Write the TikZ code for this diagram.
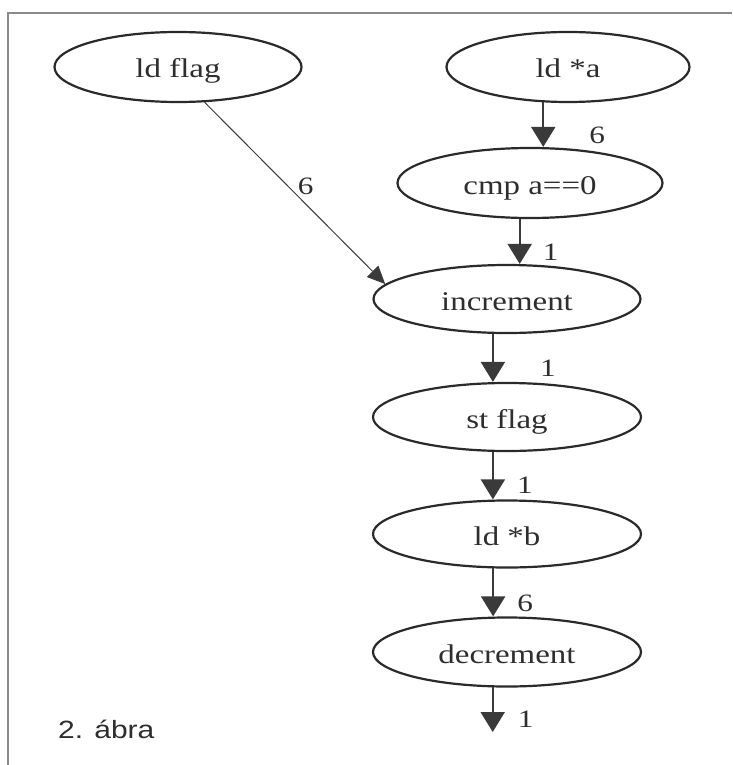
\documentclass[tikz,border=0pt]{standalone}
\usepackage{fontspec}
\setmainfont{Liberation Serif}
\newfontfamily\graphfont[FakeStretch=1.22]{Liberation Serif}
\newfontfamily\lblfont[FakeStretch=1.25]{Liberation Serif}
\newfontfamily\capfont[FakeStretch=1.2]{Liberation Sans}
\usetikzlibrary{arrows.meta,shapes.geometric}
\definecolor{ink}{HTML}{2A2A2A}
\definecolor{stem}{HTML}{3A3A3A}
\definecolor{framec}{HTML}{8A8A8A}
\definecolor{txt}{HTML}{2E2E2E}
\begin{document}
\begin{tikzpicture}[x=1pt,y=-1pt,
  op/.style={ellipse,draw=ink,line width=2.2pt,inner sep=0pt,text=txt,
    text height=24pt,text depth=2pt,
    font=\graphfont\fontsize{27}{30}\selectfont},
  lbl/.style={text=txt,inner sep=0pt,font=\lblfont\fontsize{25}{28}\selectfont},
  arr/.style={draw=stem,line width=2pt,-{Triangle[length=20pt,width=24pt]}},
  thinarr/.style={draw=stem,line width=1pt,-{Triangle[length=18pt,width=16pt]}}]
\useasboundingbox (0,0) rectangle (732,765);
\fill[white] (0,0) rectangle (732,765);
% frame
\draw[framec,line width=2pt] (8,765) -- (8,13) -- (732,13);
% nodes
\node[op,minimum width=247pt,minimum height=70pt] (ldflag) at (178,67) {ld flag};
\node[op,minimum width=243pt,minimum height=70pt] (lda) at (568,67) {ld *a};
\node[op,minimum width=265pt,minimum height=70pt] (cmp) at (530,183) {cmp a==0};
\node[op,minimum width=267pt,minimum height=68pt] (incr) at (507,299) {increment};
\node[op,minimum width=268pt,minimum height=68pt] (stflag) at (507,417) {st flag};
\node[op,minimum width=268pt,minimum height=67pt] (ldb) at (507,534) {ld *b};
\node[op,minimum width=268pt,minimum height=69pt] (decr) at (507,652) {decrement};
\coordinate (out) at (493,732);
% edges
\draw[thinarr] (ldflag.-53) -- node[lbl,pos=0.46,xshift=18pt] {6} (incr.173);
\draw[arr] (lda.-125) -- node[lbl,pos=0.74,xshift=54pt] {6} (lda.-125 |- cmp.north);
\draw[arr] (cmp.-106) -- node[lbl,pos=0.75,xshift=31pt] {1} (cmp.-106 |- incr.north);
\draw[arr] (incr.-112) -- node[lbl,pos=0.72,xshift=55pt] {1} (incr.-112 |- stflag.north);
\draw[arr] (stflag.-112) -- node[lbl,pos=0.71,xshift=32pt] {1} (stflag.-112 |- ldb.north);
\draw[arr] (ldb.-112) -- node[lbl,pos=0.72,xshift=32pt] {6} (ldb.-112 |- decr.north);
\draw[arr] (decr.-112) -- node[lbl,pos=0.71,xshift=33pt] {1} (decr.-112 |- out);
% caption
\node[text=txt,inner sep=0pt,anchor=base west,font=\capfont\fontsize{25}{28}\selectfont] (cap) at (58,738) {2. ábra};
\end{tikzpicture}
\end{document}
